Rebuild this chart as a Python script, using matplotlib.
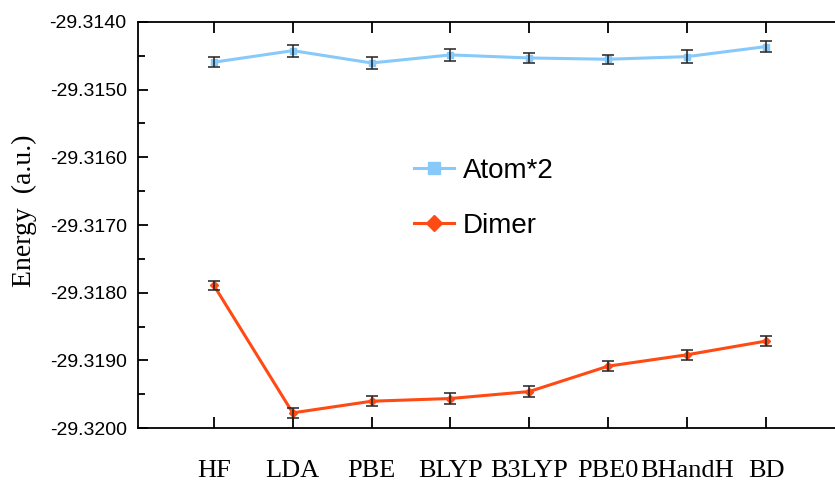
import numpy as np
import matplotlib
matplotlib.use('Agg')
import matplotlib.pyplot as plt
from matplotlib.ticker import MultipleLocator, FormatStrFormatter

methods = ['HF', 'LDA', 'PBE', 'BLYP', 'B3LYP', 'PBE0', 'BHandH', 'BD']

atom2 = [-29.314596, -29.314425, -29.314607, -29.314488,
         -29.314533, -29.314552, -29.314513, -29.314365]
atom2_err = [0.000072, 0.000089, 0.000094, 0.000086,
             0.000072, 0.000064, 0.000100, 0.000086]

dimer = [-29.317890, -29.319774, -29.319602, -29.319562,
         -29.319459, -29.319084, -29.318916, -29.318714]
dimer_err = [0.000064, 0.000076, 0.000076, 0.000084,
             0.000086, 0.000076, 0.000074, 0.000069]

x = np.arange(len(methods))

fig = plt.figure(figsize=(8.35, 4.86), dpi=100)
ax = fig.add_axes([0.165, 0.119, 0.835, 0.836])

# lines with markers
ax.plot(x, atom2, color='#87CAFA', lw=2.2, marker='s', ms=5, label='Atom*2', zorder=2)
ax.plot(x, dimer, color='#FF4A14', lw=2.2, marker='D', ms=4.5, label='Dimer', zorder=2)

# error bars on top
ax.errorbar(x, atom2, yerr=atom2_err, fmt='none', ecolor='#222222',
            elinewidth=1.1, capsize=4, capthick=1.1, zorder=3)
ax.errorbar(x, dimer, yerr=dimer_err, fmt='none', ecolor='#222222',
            elinewidth=1.1, capsize=4, capthick=1.1, zorder=3)

ax.set_xlim(-0.964, 7.875)
ax.set_ylim(-29.3200, -29.3140)

ax.yaxis.set_major_locator(MultipleLocator(0.001))
ax.yaxis.set_minor_locator(MultipleLocator(0.0005))
ax.yaxis.set_major_formatter(FormatStrFormatter('%.4f'))

ax.set_xticks(x)
ax.set_xticklabels(methods, fontfamily='Liberation Serif', fontsize=19)

ax.spines['right'].set_visible(False)
for s in ['left', 'top', 'bottom']:
    ax.spines[s].set_linewidth(1.3)

ax.tick_params(axis='x', which='major', direction='in', top=True, bottom=True,
               length=8, width=1.3, pad=23)
ax.tick_params(axis='y', which='major', direction='in', length=7, width=1.3,
               pad=8, labelsize=14)
ax.tick_params(axis='y', which='minor', direction='in', length=5, width=1.3)
for lab in ax.get_yticklabels():
    lab.set_fontfamily('Liberation Sans')

ax.set_ylabel('Energy  (a.u.)', fontfamily='Liberation Serif', fontsize=20)
ax.yaxis.set_label_coords(-0.145, 0.535)

ax.legend(loc='upper left', bbox_to_anchor=(0.466, 0.727), bbox_transform=fig.transFigure,
          frameon=False, prop={'family': 'Liberation Sans', 'size': 20},
          handlelength=1.45, handletextpad=0.3, labelspacing=1.05, markerscale=1.8)

fig.savefig('out.png', dpi=100)
